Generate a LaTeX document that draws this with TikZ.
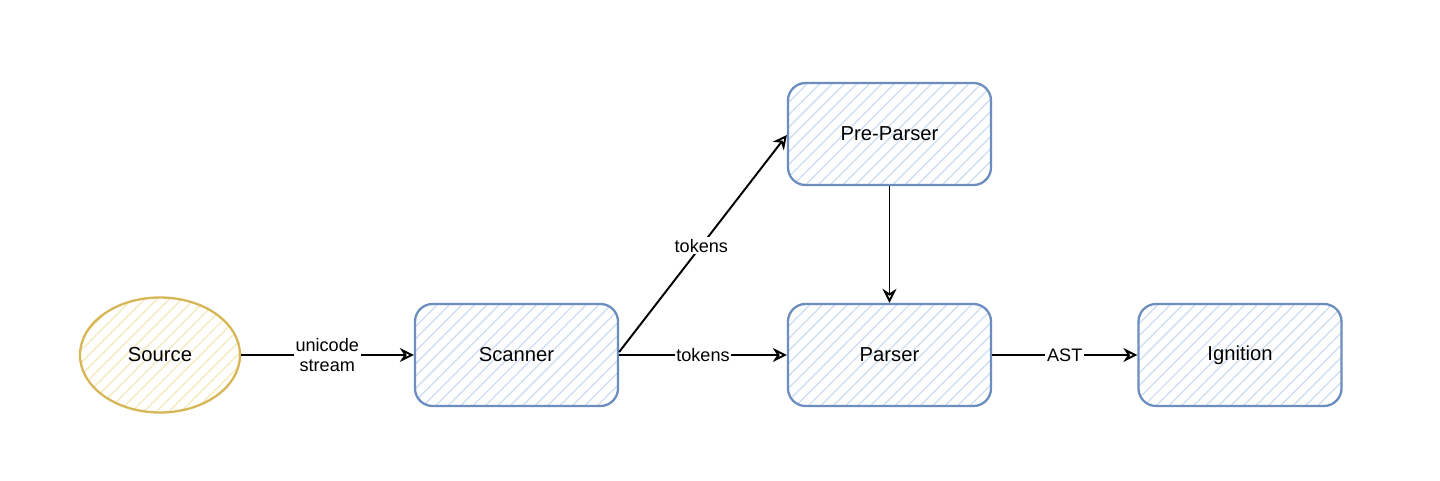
\documentclass[tikz,border=0pt]{standalone}
\usepackage{fontspec}
\setmainfont{Liberation Sans}
\usetikzlibrary{patterns.meta,arrows.meta,shapes.geometric}
\definecolor{boxline}{HTML}{6C8EBF}
\definecolor{boxhatch}{HTML}{CCDCF0}
\definecolor{srcline}{HTML}{D6B656}
\definecolor{srchatch}{HTML}{F3E8B8}
\tikzset{
  blockbox/.style={draw=boxline, line width=1.3pt, rounded corners=10pt,
    minimum width=4.06cm, minimum height=2.04cm,
    pattern={Lines[angle=45,distance=5pt,line width=0.7pt]}, pattern color=boxhatch},
  srcnode/.style={draw=srcline, line width=1.3pt, ellipse, minimum width=3.2cm, minimum height=2.3cm,
    pattern={Lines[angle=45,distance=5pt,line width=0.7pt]}, pattern color=srchatch, inner sep=0pt},
  ntext/.style={font=\fontsize{11.5pt}{13pt}\selectfont},
  flow/.style={draw=black, line width=1.1pt, -{Stealth[open,length=8pt,width=8pt]}},
  elabel/.style={fill=white, inner sep=1pt, font=\fontsize{10.3pt}{11.5pt}\selectfont, align=center}
}
\begin{document}
\begin{tikzpicture}
\useasboundingbox[fill=white] (0,0) rectangle (28.8,-9.62);
\node[srcnode] (src) at (3.2,-7.1) {};
\node[ntext] (srct) at (src.center) {Source};
\node[blockbox] (scan) at (10.33,-7.1) {};
\node[ntext] (scant) at (scan.center) {Scanner};
\node[blockbox] (pre) at (17.79,-2.68) {};
\node[ntext] (pret) at (pre.center) {Pre-Parser};
\node[blockbox] (parse) at (17.79,-7.1) {};
\node[ntext] (parset) at (parse.center) {Parser};
\node[blockbox] (ign) at (24.8,-7.1) {};
\node[ntext] (ignt) at (ign.center) {Ignition};
\draw[flow] (src) -- node[elabel] {unicode\\stream} (scan);
\draw[flow] (scan.east) -- node[elabel] {tokens} (parse.west);
\draw[flow] ([yshift=0.06cm]scan.east) -- node[elabel, pos=0.49] {tokens} ([yshift=-0.02cm]pre.west);
\draw[flow] (pre) -- (parse);
\draw[flow] (parse) -- node[elabel] {AST} (ign);
\end{tikzpicture}
\end{document}
